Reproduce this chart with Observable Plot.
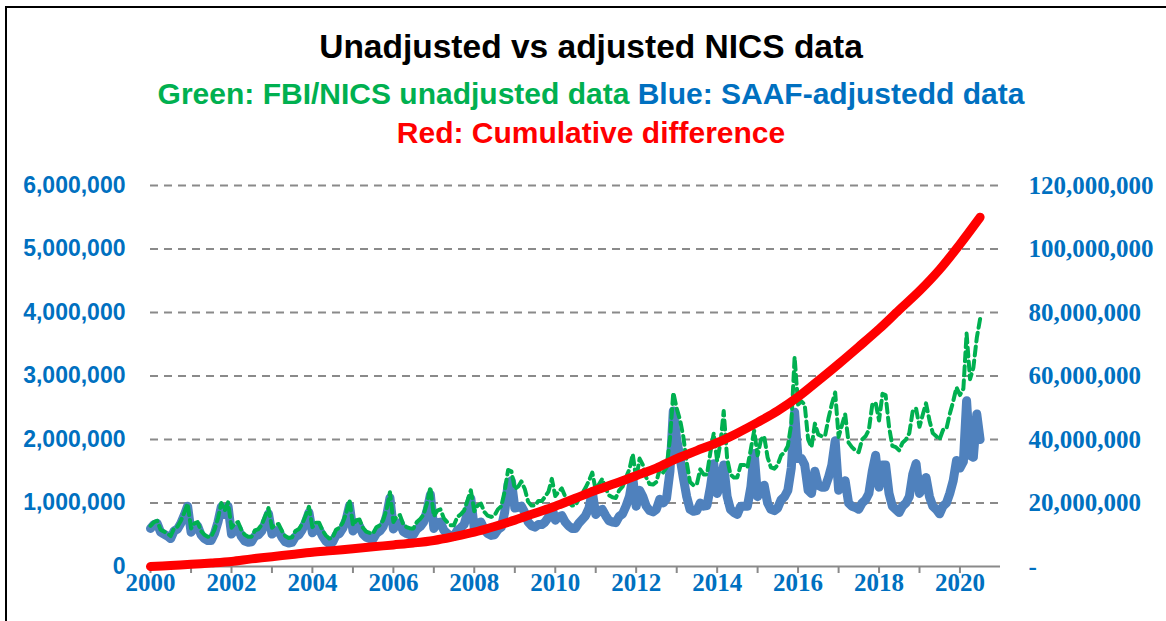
<!DOCTYPE html>
<html>
<head>
<meta charset="utf-8">
<script src="https://cdn.jsdelivr.net/npm/d3@7"></script>
<script src="https://cdn.jsdelivr.net/npm/@observablehq/plot@0.6"></script>
<style>
  html, body { margin: 0; padding: 0; background: #fff; }
  #page { position: relative; width: 1166px; height: 621px; overflow: hidden; background: #fff; }
  #frame { position: absolute; left: 5px; top: 6px; width: 3000px; height: 3000px;
           border-left: 2px solid #000; border-top: 2px solid #000; }
  .t { position: absolute; left: 8px; width: 1166px; text-align: center; white-space: nowrap;
       font-family: "Liberation Sans", Arial, sans-serif; font-weight: bold; line-height: 1; }
  #title { top: 30px; font-size: 33.5px; color: #000; }
  #sub1 { top: 79px; font-size: 30px; }
  #sub2 { top: 118px; font-size: 30px; color: #FF0000; }
  #chart { position: absolute; left: 0; top: 160px; }
</style>
</head>
<body>
<div id="page">
  <div id="frame"></div>
  <div class="t" id="title">Unadjusted vs adjusted NICS data</div>
  <div class="t" id="sub1"><span style="color:#00B050">Green: FBI/NICS unadjusted data</span> <span style="color:#0070C0">Blue: SAAF-adjustedd data</span></div>
  <div class="t" id="sub2">Red: Cumulative difference</div>
  <div id="chart"></div>
</div>
<script>
// Monthly values (thousands), Jan 2000 .. Jul 2020
const greenThousands = [
  640,700,720,580,550,520,480,600,630,720,850,990,        // 2000
  600,680,700,560,500,470,470,580,760,1000,880,1010,      // 2001
  610,680,700,570,500,470,470,570,590,660,790,920,        // 2002
  610,660,670,560,480,450,460,560,590,670,800,940,        // 2003
  620,690,690,570,490,440,450,580,610,690,840,1050,       // 2004
  650,730,740,610,550,530,520,620,650,730,900,1170,       // 2005
  700,790,810,660,620,600,600,700,750,820,1000,1250,      // 2006
  790,880,900,760,700,650,650,780,820,880,1040,1200,      // 2007
  870,960,990,860,800,780,800,900,950,1180,1520,1500,     // 2008
  1220,1260,1340,1220,1020,960,960,1030,1030,1100,1180,1380, // 2009
  1110,1180,1230,1100,1010,960,960,1060,1150,1240,1350,1480, // 2010
  1200,1300,1380,1230,1120,1090,1080,1200,1260,1400,1530,1770, // 2011
  1380,1700,1600,1400,1300,1290,1330,1540,1480,1560,2010,2740, // 2012
  2490,2300,2050,1640,1330,1280,1290,1530,1450,1450,1800,2100, // 2013
  1660,1960,2450,1700,1450,1400,1400,1600,1600,1560,1850,2140, // 2014
  1750,2000,2050,1720,1560,1540,1600,1750,1800,1900,2250,3300, // 2015
  2550,2600,2550,2000,1880,2250,2080,2050,2060,2330,2560,2740, // 2016
  2040,2230,2400,1950,1880,1830,1800,2000,2050,2150,2550,2580, // 2017
  2300,2720,2700,2200,1900,1880,1830,1950,2000,2100,2450,2490, // 2018
  2200,2400,2570,2300,2100,2050,2000,2150,2170,2400,2600,2820, // 2019
  2700,2800,3670,2950,3130,3600,3900                           // 2020
];
const blueThousands = [
  600,660,680,540,510,480,440,560,590,680,810,950,        // 2000
  540,620,640,500,440,410,410,520,700,940,820,950,        // 2001
  510,580,600,470,400,380,390,480,500,560,690,830,        // 2002
  510,560,570,460,390,370,380,470,500,580,700,850,        // 2003
  530,590,590,480,400,360,380,490,520,600,740,960,        // 2004
  560,630,640,510,460,440,430,520,560,630,800,1080,       // 2005
  590,670,690,550,520,500,500,590,630,700,880,1130,       // 2006
  600,690,700,570,520,480,480,570,610,660,840,1070,       // 2007
  600,680,700,580,520,490,500,580,620,850,1300,1350,      // 2008
  920,930,950,850,700,640,620,660,660,700,780,930,        // 2009
  730,780,800,700,640,600,600,680,740,800,920,1180,       // 2010
  820,880,900,800,720,700,690,790,830,950,1100,1400,      // 2011
  950,1200,1100,950,880,860,900,1060,1000,1070,1500,2450, // 2012
  2000,1700,1400,1100,900,870,880,1000,950,960,1250,1620, // 2013
  1150,1300,1600,1100,900,850,820,950,950,950,1250,1780,  // 2014
  1100,1250,1280,1000,900,880,920,1050,1100,1200,1550,2430, // 2015
  1700,1700,1600,1200,1150,1500,1280,1250,1250,1400,1600,1980, // 2016
  1200,1280,1350,1000,950,930,900,1000,1050,1150,1500,1750, // 2017
  1250,1600,1600,1150,950,900,850,950,1000,1100,1450,1620, // 2018
  1150,1250,1400,1100,950,900,830,950,1000,1150,1350,1670, // 2019
  1550,1650,2610,1750,1720,2400,2000                       // 2020
];
// Cumulative difference (millions)
const redMonths = ["2000-01","2000-07","2001-01","2001-07","2002-01","2002-07","2003-01","2003-07",
  "2004-01","2004-07","2005-01","2005-07","2006-01","2006-07","2007-01","2007-07","2008-01","2008-07",
  "2009-01","2009-07","2010-01","2010-07","2011-01","2011-07","2012-01","2012-07","2013-01","2013-07",
  "2014-01","2014-07","2015-01","2015-07","2016-01","2016-07","2017-01","2017-07","2018-01","2018-07",
  "2019-01","2019-07","2020-01","2020-07"];
const redMillions = [0,0.3,0.7,1.1,1.6,2.4,3.1,3.8,4.5,5.0,5.6,6.2,6.8,7.4,8.2,9.4,10.8,12.6,
  14.6,16.8,19.0,21.5,24.0,26.2,28.6,31.0,34.0,36.5,39.0,42.0,45.4,49.0,53.4,58.5,63.8,69.2,74.8,80.8,
  86.8,93.5,101.5,110.0];
const leftTicks = [0,1000000,2000000,3000000,4000000,5000000,6000000];
const rightTicks = [0,20000000,40000000,60000000,80000000,100000000,120000000];
const tickYears = d3.range(2000, 2021);
const labelYears = [2000,2002,2004,2006,2008,2010,2012,2014,2016,2018,2020];

const ratio = 20; // right axis / left axis
const rows = greenThousands.map((g, i) => ({
  date: new Date(Date.UTC(2000, i, 1)),
  green: g * 1000,
  blue: blueThousands[i] * 1000
}));
const parseMonth = d3.utcParse("%Y-%m");
const redRows = redMonths.map((m, i) => ({date: parseMonth(m), value: redMillions[i] * 1e6}));
const yearDate = y => new Date(Date.UTC(y, 0, 1));
const gridColor = "#8A8A8A";
const blueText = "#0070C0";

const chart = Plot.plot({
  width: 1166,
  height: 461,
  marginLeft: 150,
  marginRight: 166,
  marginTop: 25,
  marginBottom: 55,
  x: {type: "utc", domain: [yearDate(2000), yearDate(2021)]},
  y: {domain: [0, 6000000]},
  style: {background: "transparent"},
  marks: [
    Plot.ruleY(leftTicks.filter(d => d > 0), {stroke: gridColor, strokeWidth: 2, strokeDasharray: "8,6"}),
    Plot.ruleY([0], {stroke: gridColor, strokeWidth: 2}),
    Plot.axisX({ticks: tickYears.map(yearDate), tickSize: 7, stroke: gridColor, strokeWidth: 2,
      tickFormat: () => "", label: null}),
    Plot.axisX({ticks: labelYears.map(yearDate), tickSize: 0, tickPadding: 7, color: blueText,
      tickFormat: d => String(d.getUTCFullYear()), fontFamily: "Liberation Serif", fontWeight: "bold",
      fontSize: 25, label: null}),
    Plot.axisY({ticks: leftTicks, tickSize: 0, tickPadding: 25, color: blueText,
      tickFormat: d3.format(","), fontFamily: "Liberation Sans", fontWeight: "bold", fontSize: 23, label: null}),
    Plot.axisY({anchor: "right", ticks: rightTicks.map(d => d / ratio), tickSize: 0, tickPadding: 28,
      color: blueText, tickFormat: d => d === 0 ? "-" : d3.format(",")(d * ratio),
      fontFamily: "Liberation Serif", fontWeight: "bold", fontSize: 25, label: null}),
    Plot.lineY(rows, {x: "date", y: "blue", stroke: "#4F81BD", strokeWidth: 9, strokeLinejoin: "round", strokeLinecap: "round"}),
    Plot.lineY(rows, {x: "date", y: "green", stroke: "#00B050", strokeWidth: 4, strokeDasharray: "9,5"}),
    Plot.line(redRows, {x: "date", y: d => d.value / ratio, stroke: "#FF0000", strokeWidth: 9,
      curve: "catmull-rom", strokeLinecap: "round"})
  ]
});
document.getElementById("chart").appendChild(chart);
</script>
</body>
</html>
